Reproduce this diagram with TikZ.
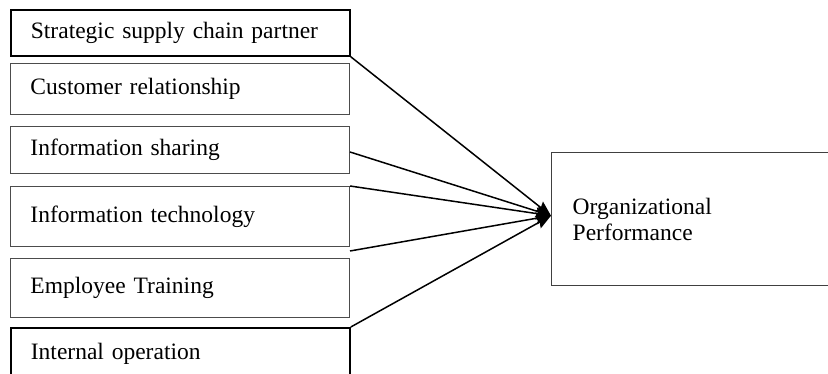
\documentclass[tikz,border=0pt]{standalone}
\usepackage{fontspec}
\setmainfont{Liberation Serif}
\usetikzlibrary{arrows.meta,positioning}

\begin{document}
\begin{tikzpicture}
[x=1pt, y=-1pt, line width=1.5pt, >={Stealth[length=15pt,width=12pt,inset=2pt]},
factor/.style={rectangle, draw=black!70, line width=1pt, anchor=north west, inner xsep=20pt,
  text width=299pt, align=left, font=\fontsize{23.5}{26}\selectfont},
keyfactor/.style={factor, draw=black, line width=1.8pt},
outcome/.style={rectangle, draw=black!75, line width=1.4pt, anchor=north west, inner xsep=21pt,
  text width=260pt, align=left, minimum height=133pt, font=\fontsize{23.5}{26}\selectfont}]

\useasboundingbox (0,0) rectangle (828,374);
\clip (0,0) rectangle (828,374);

\node[keyfactor, minimum height=46pt] (factor1) at (10,9) {Strategic supply chain partner};
\node[factor, minimum height=51pt] (factor2) at (10,63) {Customer relationship};
\node[factor, minimum height=47pt] (factor3) at (10,126) {Information sharing};
\node[factor, minimum height=60pt] (factor4) at (10,186) {Information technology};
\node[factor, minimum height=59pt] (factor5) at (10,258) {Employee Training};
\node[keyfactor, minimum height=52pt] (factor6) at (10,327) {Internal operation};

\node[outcome] (perf) at (551,152) {Organizational\\Performance};
\coordinate (tip) at ([yshift=3.5pt]perf.west);

\draw[->] (factor1.south east) -- (tip);
\draw[->] ([yshift=-2pt]factor3.east) -- (tip);
\draw[->] (factor4.north east) -- (tip);
\draw[->] ([yshift=-4pt]factor4.south east) -- (tip);
\draw[->] (factor6.north east) -- (tip);
\end{tikzpicture}
\end{document}
